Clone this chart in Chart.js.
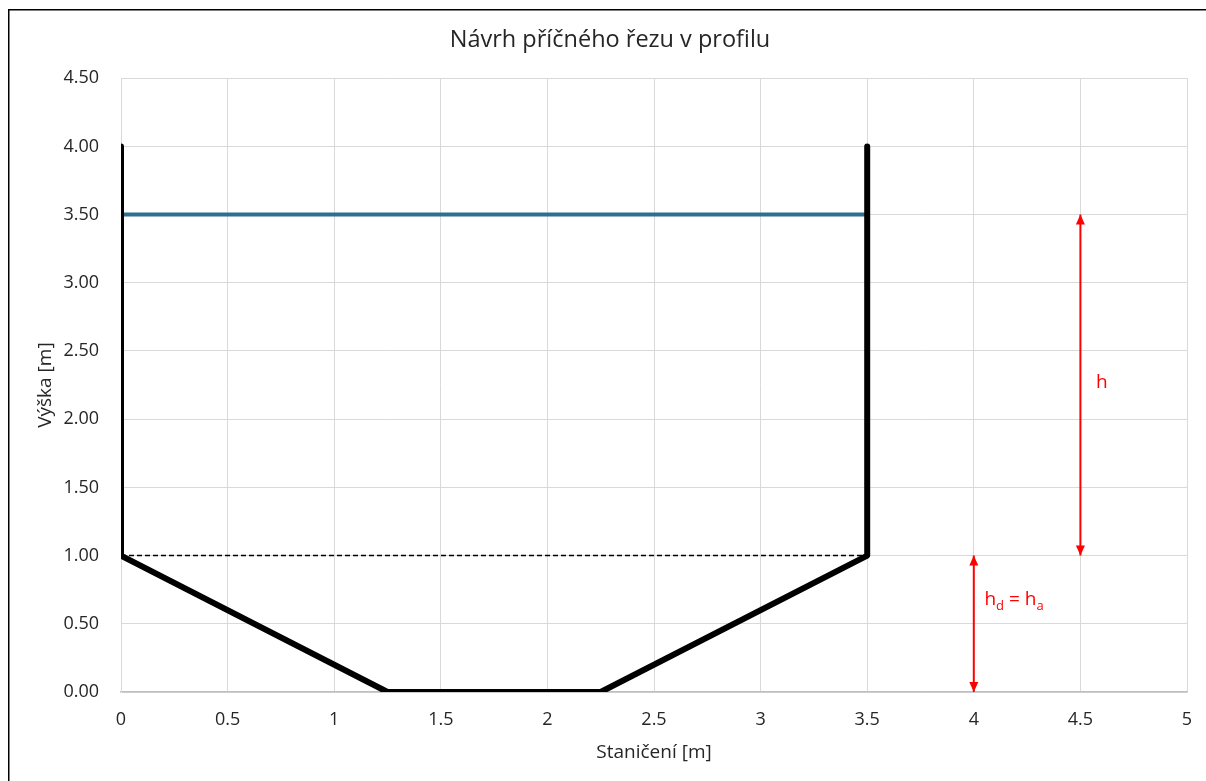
<!DOCTYPE html>
<html>
<head>
<meta charset="utf-8">
<script src="https://cdn.jsdelivr.net/npm/chart.js@4.4.1/dist/chart.umd.min.js"></script>
<style>
  html, body { margin: 0; padding: 0; background: #fff; overflow: hidden; }
  canvas { display: block; }
</style>
</head>
<body>
<canvas id="profileChart" width="1206" height="781"></canvas>
<script>
// Cross-section data
const profileX = [0, 0, 1.25, 2.25, 3.5, 3.5];
const profileY = [4, 1, 0, 0, 1, 4];
const waterX = [0, 3.5];
const waterY = [3.5, 3.5];
const baseX = [0, 3.5];
const baseY = [1, 1];
const arrowHX = [4.5, 4.5];
const arrowHY = [1, 3.5];
const arrowDX = [4, 4];
const arrowDY = [0, 1];

const toPoints = (xs, ys) => xs.map((x, i) => ({ x: x, y: ys[i] }));

const textColor = '#262626';
Chart.defaults.font.family = "'Open Sans', sans-serif";
Chart.defaults.color = textColor;

// Outer frame (only left and top edges are visible in the original)
const framePlugin = {
  id: 'frame',
  afterDraw(chart) {
    const ctx = chart.ctx;
    ctx.save();
    ctx.strokeStyle = '#000';
    ctx.lineWidth = 1.5;
    ctx.beginPath();
    ctx.moveTo(8.75, chart.height);
    ctx.lineTo(8.75, 9.75);
    ctx.lineTo(chart.width, 9.75);
    ctx.stroke();
    ctx.restore();
  }
};

// Arrowheads at both ends of datasets marked with arrowHeads
const arrowPlugin = {
  id: 'arrows',
  afterDatasetsDraw(chart) {
    const ctx = chart.ctx;
    chart.data.datasets.forEach((ds, i) => {
      if (!ds.arrowHeads) return;
      const pts = chart.getDatasetMeta(i).data;
      const a = pts[0], b = pts[pts.length - 1];
      const head = (tip, from) => {
        const ang = Math.atan2(tip.y - from.y, tip.x - from.x);
        const len = 10, hw = 4.5;
        ctx.save();
        ctx.translate(tip.x, tip.y);
        ctx.rotate(ang);
        ctx.beginPath();
        ctx.moveTo(0, 0);
        ctx.lineTo(-len, -hw);
        ctx.lineTo(-len, hw);
        ctx.closePath();
        ctx.fillStyle = ds.borderColor;
        ctx.fill();
        ctx.restore();
      };
      head(a, b);
      head(b, a);
    });
  }
};

// Red labels next to the arrows
const labelPlugin = {
  id: 'labels',
  afterDatasetsDraw(chart) {
    const ctx = chart.ctx;
    const xs = chart.scales.x, ys = chart.scales.y;
    ctx.save();
    ctx.fillStyle = '#ff0000';
    ctx.textBaseline = 'middle';
    ctx.textAlign = 'left';
    const big = "19px 'Open Sans'", small = "13px 'Open Sans'";
    // h
    ctx.font = big;
    ctx.fillText('h', xs.getPixelForValue(4.573), ys.getPixelForValue(2.27));
    // hd = ha
    let px = xs.getPixelForValue(4.05);
    const py = ys.getPixelForValue(0.675);
    const parts = [['h', big, 0], ['d', small, 6], [' = h', big, 0], ['a', small, 6]];
    parts.forEach(p => {
      ctx.font = p[1];
      ctx.fillText(p[0], px, py + p[2]);
      px += ctx.measureText(p[0]).width;
    });
    ctx.restore();
  }
};

const ctx = document.getElementById('profileChart').getContext('2d');

new Chart(ctx, {
  type: 'scatter',
  data: {
    datasets: [
      {
        label: 'Profil',
        data: toPoints(profileX, profileY),
        showLine: true,
        borderColor: '#000000',
        borderWidth: 6,
        borderCapStyle: 'round',
        borderJoinStyle: 'round',
        pointRadius: 0,
        clip: 0,
        order: 0
      },
      {
        label: 'Hladina',
        data: toPoints(waterX, waterY),
        showLine: true,
        borderColor: '#2f6f8f',
        borderWidth: 4,
        pointRadius: 0,
        order: 1
      },
      {
        label: 'Dno',
        data: toPoints(baseX, baseY),
        showLine: true,
        borderColor: '#000000',
        borderWidth: 1.5,
        borderDash: [5, 3],
        pointRadius: 0,
        order: 2
      },
      {
        label: 'h',
        data: toPoints(arrowHX, arrowHY),
        showLine: true,
        borderColor: '#ff0000',
        borderWidth: 2,
        pointRadius: 0,
        arrowHeads: true,
        order: 3
      },
      {
        label: 'hd',
        data: toPoints(arrowDX, arrowDY),
        showLine: true,
        borderColor: '#ff0000',
        borderWidth: 2,
        pointRadius: 0,
        arrowHeads: true,
        order: 4
      }
    ]
  },
  options: {
    responsive: false,
    animation: false,
    layout: {
      padding: { left: 14, right: 0, top: 0, bottom: 0 }
    },
    scales: {
      x: {
        type: 'linear',
        min: 0,
        max: 5,
        ticks: {
          stepSize: 0.5,
          padding: 17,
          font: { size: 18 },
          color: textColor,
          callback: v => String(v)
        },
        grid: { color: '#d9d9d9', drawTicks: false },
        border: { color: '#bfbfbf', width: 1.5 },
        title: {
          display: true,
          text: 'Staničení [m]',
          font: { size: 19 },
          color: textColor,
          padding: { top: 0, bottom: 17 }
        },
        afterFit(scale) {
          scale.height = 89;
          scale.paddingRight = 19;
        }
      },
      y: {
        type: 'linear',
        min: 0,
        max: 4.5,
        ticks: {
          stepSize: 0.5,
          padding: 22,
          font: { size: 18 },
          color: textColor,
          callback: v => v.toFixed(2)
        },
        grid: { color: '#d9d9d9', drawTicks: false },
        border: { color: '#d9d9d9' },
        title: {
          display: true,
          text: 'Výška [m]',
          font: { size: 19 },
          color: textColor,
          padding: { top: 20, bottom: 0 }
        },
        afterFit(scale) {
          scale.width = 107;
        }
      }
    },
    plugins: {
      legend: { display: false },
      tooltip: { enabled: false },
      title: {
        display: true,
        text: 'Návrh příčného řezu v profilu',
        font: { size: 23.5, weight: 'normal' },
        color: textColor,
        padding: { top: 26, bottom: 24 }
      }
    }
  },
  plugins: [framePlugin, arrowPlugin, labelPlugin]
});
</script>
</body>
</html>
